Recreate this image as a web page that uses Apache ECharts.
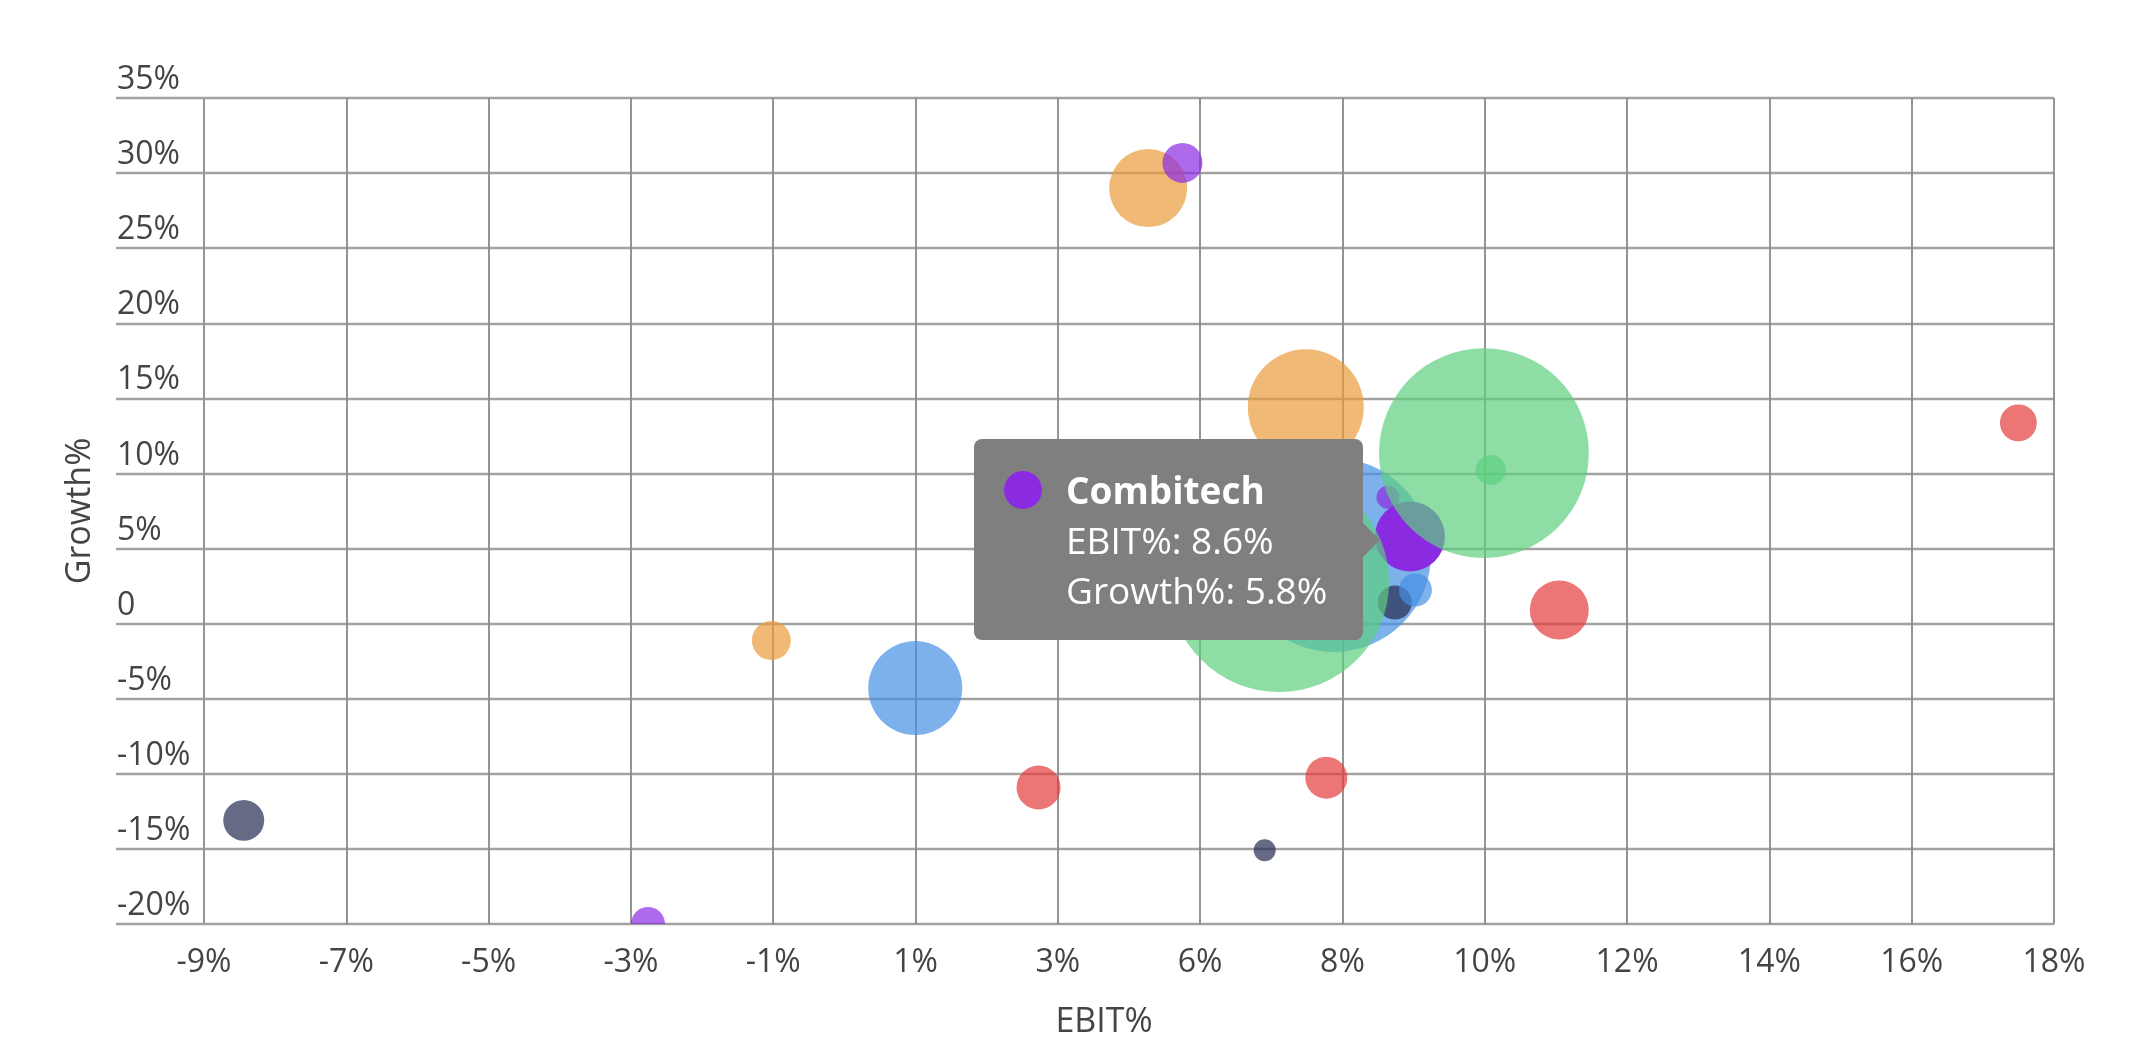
<!DOCTYPE html>
<html>
<head>
<meta charset="utf-8">
<title>EBIT% vs Growth%</title>
<script src="https://cdn.jsdelivr.net/npm/echarts@6/dist/echarts.min.js"></script>
<style>
  html, body { margin: 0; padding: 0; background: #fff; }
  #main { width: 2136px; height: 1064px; }
</style>
</head>
<body>
<div id="main"></div>
<script>
// business units, listed in drawing order (later ones sit on top)
var units = ['Unit 1', 'Unit 2', 'Unit 3', 'Unit 4', 'Unit 5', 'Unit 6', 'Unit 7',
             'Unit 8', 'Unit 9', 'Unit 10', 'Unit 11', 'Combitech', 'Unit 13', 'Unit 14',
             'Unit 15', 'Unit 16', 'Unit 17', 'Unit 18', 'Unit 19', 'Unit 20'];
// business area of each unit (index into areaColors)
var unitArea = [1, 1, 1, 3, 3, 3, 3, 0, 0, 5, 5, 5, 5, 4, 4, 4, 0, 2, 2, 2];
var ebit     = [4.78, 7.08, -0.72, 17.48, 10.78, 3.18, 7.38, 7.49, 1.38, 5.28, 8.28, 8.6, -2.52, 8.38, -8.42, 6.48, 8.68, 6.69, 9.68, 9.78];
var growth   = [29.0, 14.41, -1.13, 13.37, 0.91, -10.91, -10.26, 4.57, -4.29, 30.68, 8.41, 5.8, -20, 1.4, -13.1, -15.09, 2.24, 2.77, 11.36, 10.23];
var sales    = [1520, 3360, 380, 340, 870, 484, 441, 9400, 2209, 400, 132, 1225, 289, 289, 420, 121, 272, 12100, 11000, 225];

var areaColors = ['#4490e2', '#ea9b3c', '#5ccf7f', '#e43b3b', '#252b50', '#8a2be2'];
var focusUnit = 'Combitech';

var xMin = -9, xMax = 18, xSteps = 13;
var yMin = -20, yMax = 35, yStep = 5;

function bubbleDiameter(v) {
  return 2 * Math.sqrt(v);
}

var myChart = echarts.init(document.getElementById('main'));

var hLine = { color: '#a2a2a2', width: 2.4 };
var vLine = { color: '#8a8a8a', width: 1.8 };

var option = {
  animation: false,
  textStyle: { fontFamily: 'Open Sans' },
  grid: { left: 204, right: 82, top: 98, bottom: 140, containLabel: false },
  tooltip: {
    trigger: 'item',
    triggerOn: 'none',
    alwaysShowContent: true,
    transitionDuration: 0,
    backgroundColor: '#7f7f7f',
    borderWidth: 0,
    borderRadius: 8,
    padding: [26, 36, 25, 30],
    textStyle: { color: '#fff', fontFamily: 'Open Sans', fontSize: 37 },
    extraCssText: 'box-shadow:none;line-height:50px;',
    position: function (point, params, dom, rect, size) {
      var r = bubbleDiameter(params.value[2]) / 2;
      return [point[0] - r - 12 - size.contentSize[0], point[1] + 3 - size.contentSize[1] / 2];
    },
    formatter: function (p) {
      var c = areaColors[unitArea[p.dataIndex]];
      return '<div style="position:absolute;right:-17px;top:50%;margin-top:-17px;width:0;height:0;' +
             'border-top:17px solid transparent;border-bottom:17px solid transparent;border-left:17px solid #7f7f7f;"></div>' +
             '<div style="display:flex;align-items:center;line-height:50px;">' +
             '<span style="display:inline-block;width:38px;height:38px;border-radius:50%;background:' + c + ';margin-right:24px;"></span>' +
             '<b>' + p.name + '</b></div>' +
             '<div style="padding-left:62px;line-height:50px;">EBIT%: ' + p.value[0] + '%</div>' +
             '<div style="padding-left:62px;line-height:50px;">Growth%: ' + p.value[1] + '%</div>';
    }
  },
  xAxis: {
    type: 'value',
    min: xMin,
    max: xMax,
    interval: (xMax - xMin) / xSteps,
    name: 'EBIT%',
    nameLocation: 'middle',
    nameGap: 81,
    nameTextStyle: { color: '#444', fontSize: 34, padding: [0, 50, 0, 0] },
    axisLine: { show: false, onZero: false },
    axisTick: { show: false },
    axisLabel: {
      color: '#444',
      fontSize: 32,
      margin: 23,
      formatter: function (v) { return Math.round(v) + '%'; }
    },
    splitLine: { show: true, lineStyle: vLine }
  },
  yAxis: {
    type: 'value',
    min: yMin,
    max: yMax,
    interval: yStep,
    name: 'Growth%',
    nameLocation: 'middle',
    nameGap: 107,
    nameTextStyle: { color: '#444', fontSize: 34 },
    axisLine: { show: false, onZero: false },
    axisTick: { show: true, length: 88, lineStyle: hLine },
    axisLabel: {
      color: '#444',
      fontSize: 32,
      margin: 87,
      align: 'left',
      verticalAlign: 'bottom',
      padding: [0, 0, 2, 0],
      formatter: function (v) { return v === 0 ? '0' : v + '%'; }
    },
    splitLine: { show: true, lineStyle: hLine }
  },
  series: [{
    type: 'custom',
    coordinateSystem: 'cartesian2d',
    clip: true,
    encode: { x: 0, y: 1, tooltip: [0, 1] },
    data: units.map(function (n, i) {
      return { name: n, value: [ebit[i], growth[i], sales[i]] };
    }),
    renderItem: function (params, api) {
      var i = params.dataIndex;
      var p = api.coord([api.value(0), api.value(1)]);
      return {
        type: 'circle',
        shape: { cx: p[0], cy: p[1], r: bubbleDiameter(api.value(2)) / 2 },
        style: {
          fill: areaColors[unitArea[i]],
          opacity: units[i] === focusUnit ? 1 : 0.7
        }
      };
    }
  }]
};

myChart.setOption(option);

myChart.dispatchAction({
  type: 'showTip',
  seriesIndex: 0,
  dataIndex: units.indexOf(focusUnit)
});
</script>
</body>
</html>
